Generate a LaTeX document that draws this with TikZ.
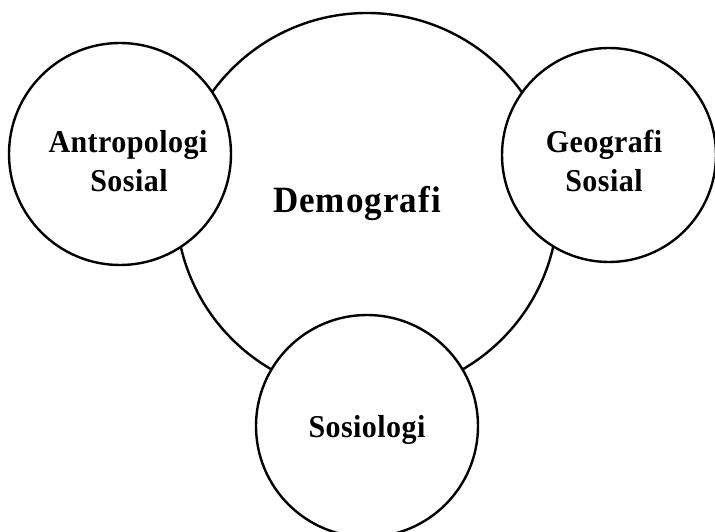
\documentclass[tikz,border=0pt]{standalone}
\usepackage{fontspec}
\setmainfont{Liberation Serif}
\begin{document}
\begin{tikzpicture}[x=1pt,y=-1pt,
  ring/.style={circle,draw=black,line width=2.4pt,fill=white,inner sep=0pt},
  lbl/.style={anchor=base,inner sep=0pt,yscale=1.06,font=\fontsize{30}{36}\selectfont\bfseries\addfontfeature{LetterSpace=1.5}},
  biglbl/.style={anchor=base,inner sep=0pt,yscale=1.06,font=\fontsize{35}{42}\selectfont\bfseries\addfontfeature{LetterSpace=3}}]
\useasboundingbox (0,0) rectangle (715,532);
\clip (0,0) rectangle (715,532);
\node[ring,minimum size=382pt] (demo) at (367,204) {};
\node[ring,minimum size=222pt] (antro) at (120,154) {};
\node[ring,minimum size=214pt] (geo) at (609,155) {};
\node[ring,minimum size=222pt] (sosio) at (367,426) {};
\node[biglbl] (tdemo) at (357,212) {Demografi};
\node[lbl] (tantro1) at (128,153) {Antropologi};
\node[lbl] (tantro2) at (129,191) {Sosial};
\node[lbl] (tgeo1) at (604,153) {Geografi};
\node[lbl] (tgeo2) at (604,191) {Sosial};
\node[lbl] (tsosio) at (367,437.5) {Sosiologi};
\end{tikzpicture}
\end{document}
